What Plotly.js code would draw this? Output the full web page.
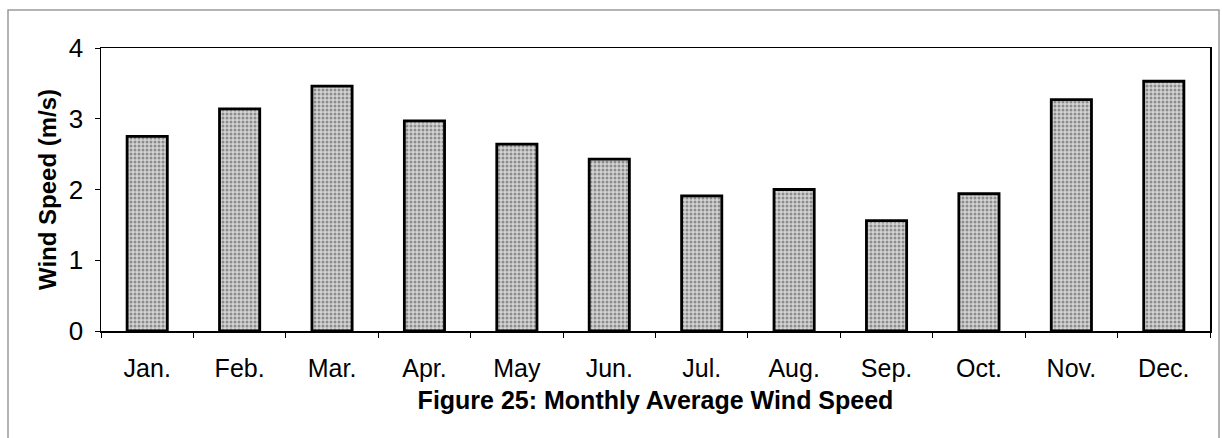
<!DOCTYPE html>
<html>
<head>
<meta charset="utf-8">
<script src="https://cdn.plot.ly/plotly-3.0.1.min.js"></script>
<style>
html,body{margin:0;padding:0;background:#fff;}
#chart{width:1222px;height:438px;}
</style>
</head>
<body>
<div id="chart"></div>
<script>
const months = ["Jan.","Feb.","Mar.","Apr.","May","Jun.","Jul.","Aug.","Sep.","Oct.","Nov.","Dec."];
const windSpeed = [2.75, 3.14, 3.46, 2.97, 2.64, 2.43, 1.91, 2.00, 1.56, 1.94, 3.27, 3.53];
const yTicks = [0, 1, 2, 3, 4];
const figureTitle = "Figure 25: Monthly Average Wind Speed";
const yTitle = "Wind Speed (m/s)";

const L = 101, R = 1210, T = 48, B = 331;
const W = 1222, H = 438;
const pw = R - L, ph = B - T;
function px2x(p){ return (p - L) / pw; }
function px2y(p){ return (B - p) / ph; }

const FONT = 'Arial, "Liberation Sans", sans-serif';

const trace = {
  type: 'bar',
  x: months,
  y: windSpeed,
  marker: {
    color: '#c4c4c4',
    line: {color: '#000', width: 2.8},
    pattern: {shape: '.', fgcolor: '#8c8c8c', bgcolor: '#d4d4d4', size: 4, solidity: 0.45}
  },
  hoverinfo: 'x+y'
};

const layout = {
  width: W, height: H,
  margin: {l: L, r: W - R, t: T, b: H - B},
  paper_bgcolor: '#fff',
  plot_bgcolor: '#fff',
  bargap: 0.565,
  showlegend: false,
  font: {family: FONT, color: '#000'},
  xaxis: {
    type: 'category',
    showline: true, linecolor: '#000', linewidth: 1.5, mirror: true,
    ticks: 'outside', ticklen: 5, tickcolor: '#000', tickwidth: 1,
    tickson: 'boundaries',
    ticklabelstandoff: 14,
    tickfont: {size: 25, family: FONT},
    showgrid: false, zeroline: false,
    title: {text: '<b>' + figureTitle + '</b>', font: {size: 25, family: FONT}, standoff: 11}
  },
  yaxis: {
    range: [0, 4],
    tickvals: yTicks,
    showline: true, linecolor: '#000', linewidth: 1.5, mirror: true,
    ticks: 'outside', ticklen: 5, tickcolor: '#000', tickwidth: 1,
    ticklabelstandoff: 6,
    tickfont: {size: 26, family: FONT},
    showgrid: false, zeroline: false,
    title: {text: '<b>' + yTitle + '</b>', font: {size: 24, family: FONT}, standoff: 5}
  },
  shapes: [{
    type: 'rect', xref: 'paper', yref: 'paper',
    x0: px2x(8), x1: px2x(1219), y0: px2y(445), y1: px2y(10),
    line: {color: '#9a9a9a', width: 1.5}, fillcolor: 'rgba(0,0,0,0)', layer: 'below'
  }]
};

Plotly.newPlot('chart', [trace], layout, {displayModeBar: false, staticPlot: true});
</script>
</body>
</html>
